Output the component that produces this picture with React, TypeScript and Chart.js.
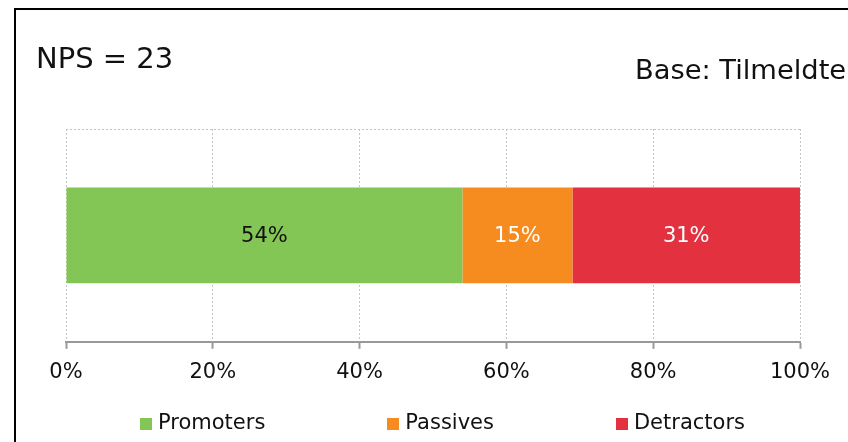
import React, { useEffect, useRef } from "react";
import { Chart, registerables } from "chart.js";

Chart.register(...registerables);

const categories = [""];
const seriesNames = ["Promoters", "Passives", "Detractors"];
const promoters = [54];
const passives = [15];
const detractors = [31];
const seriesColors = ["#84C655", "#F68B20", "#E3313F"];
const labelColors = ["#111111", "#FFFFFF", "#FFFFFF"];
const xTicks = [0, 20, 40, 60, 80, 100];
const titleText = "NPS = 23";
const baseText = "Base: Tilmeldte";

const FONT = "'DejaVu Sans', Verdana, sans-serif";

const barLabelPlugin = {
  id: "barLabels",
  afterDatasetsDraw(chart: any) {
    const ctx = chart.ctx;
    ctx.save();
    ctx.font = `21px ${FONT}`;
    ctx.textAlign = "center";
    ctx.textBaseline = "middle";
    chart.data.datasets.forEach((ds: any, i: number) => {
      const meta = chart.getDatasetMeta(i);
      meta.data.forEach((bar: any, j: number) => {
        const v = ds.data[j];
        const cx = (bar.x + bar.base) / 2;
        ctx.fillStyle = labelColors[i];
        ctx.fillText(`${v}%`, cx, bar.y + 1);
      });
    });
    ctx.restore();
  },
};

export default function App() {
  const canvasRef = useRef<HTMLCanvasElement | null>(null);

  useEffect(() => {
    document.documentElement.style.overflow = "hidden";
    document.body.style.overflow = "hidden";
    const canvas = canvasRef.current;
    if (!canvas) return;
    Chart.defaults.font.family = FONT;
    const seriesData = [promoters, passives, detractors];
    const chart = new Chart(canvas, {
      type: "bar",
      data: {
        labels: categories,
        datasets: seriesNames.map((name, i) => ({
          label: name,
          data: seriesData[i],
          backgroundColor: seriesColors[i],
          borderWidth: 0,
          barPercentage: 0.45,
          categoryPercentage: 1,
        })),
      },
      options: {
        indexAxis: "y",
        animation: false,
        responsive: false,
        devicePixelRatio: 1,
        layout: { padding: { left: 66, right: 48, top: 129, bottom: 46 } },
        plugins: { legend: { display: false }, tooltip: { enabled: false } },
        scales: {
          x: {
            stacked: true,
            min: 0,
            max: 100,
            afterBuildTicks: (axis: any) => {
              axis.ticks = xTicks.map((v) => ({ value: v }));
            },
            grid: {
              color: "#C4C4C4",
              lineWidth: 1,
              tickLength: 7,
              tickColor: "#999999",
              tickWidth: 2,
              tickBorderDash: [],
            },
            border: { display: true, color: "#999999", width: 2, dash: [2, 2] },
            ticks: {
              padding: 11,
              color: "#111111",
              font: { size: 21, family: FONT },
              callback: (v: any) => `${v}%`,
            },
          },
          y: {
            stacked: true,
            grid: { color: "#C4C4C4", lineWidth: 1, drawTicks: false, offset: true },
            border: { display: false, dash: [2, 2] },
            ticks: { display: false },
          },
        },
      },
      plugins: [barLabelPlugin],
    });
    return () => chart.destroy();
  }, []);

  return (
    <div style={{ position: "fixed", left: 0, top: 0, width: 848, height: 442, overflow: "hidden", background: "#fff", fontFamily: FONT }}>
      <div style={{ position: "absolute", left: 14, top: 8, width: 900, height: 500, border: "2px solid #000", boxSizing: "border-box" }} />
      <canvas ref={canvasRef} width={848} height={442} style={{ position: "absolute", left: 0, top: 0, width: 848, height: 442 }} />
      <div style={{ position: "absolute", left: 36, top: 44, fontSize: 29, lineHeight: 1, color: "#111", whiteSpace: "nowrap" }}>{titleText}</div>
      <div style={{ position: "absolute", left: 635, top: 56, fontSize: 27.3, lineHeight: 1, color: "#111", whiteSpace: "nowrap" }}>{baseText}</div>
      <div style={{ position: "absolute", left: 140, top: 412, display: "flex", gap: 122, fontSize: 21, lineHeight: 1, color: "#111", whiteSpace: "nowrap" }}>
        {seriesNames.map((name, i) => (
          <div key={name} style={{ display: "flex", alignItems: "center" }}>
            <span style={{ display: "inline-block", width: 12, height: 12, background: seriesColors[i], marginRight: 6, position: "relative", top: 1 }} />
            <span>{name}</span>
          </div>
        ))}
      </div>
    </div>
  );
}
